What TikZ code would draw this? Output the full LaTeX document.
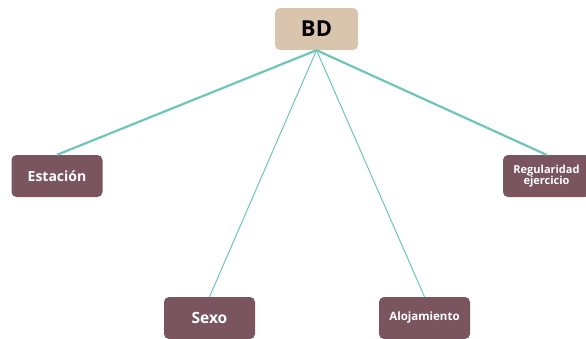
\documentclass[tikz,border=0pt]{standalone}
\usepackage{fontspec}
\setmainfont{Open Sans}
\usetikzlibrary{positioning, calc}

\definecolor{tanbox}{HTML}{D9C4AE}
\definecolor{plumbox}{HTML}{7A5560}
\definecolor{tealline}{HTML}{70C5BA}

\tikzset{
    root/.style={draw=none, fill=tanbox, rounded corners=5pt, minimum width=83pt, minimum height=42pt, font=\fontsize{22}{24}\selectfont\bfseries, text=black},
    leaf/.style={draw=none, fill=plumbox, rounded corners=5pt, minimum width=91pt, minimum height=42pt, text=white, font=\fontsize{14}{16}\selectfont\bfseries, align=center},
    thickedge/.style={draw=tealline, line width=2.2pt},
    thinedge/.style={draw=tealline, line width=1pt}
}

\begin{document}
\begin{tikzpicture}[x=1pt, y=-1pt]
    \useasboundingbox (0, 0) rectangle (586, 338);

    % Root
    \node[root] (bd) at (316.5, 29) {BD};

    % Leaves
    \node[leaf] (estacion) at (57, 176) {Estación};
    \node[leaf, minimum width=87pt, font=\fontsize{11}{11.5}\selectfont\bfseries] (regularidad) at (546.5, 176) {Regularidad\\ejercicio};
    \node[leaf, font=\fontsize{15.5}{17}\selectfont\bfseries] (sexo) at (209.5, 318) {Sexo};
    \node[leaf, font=\fontsize{11.5}{13}\selectfont\bfseries] (alojamiento) at (424.5, 318) {Alojamiento};

    % Connectors
    \draw[thickedge] (bd.south) -- (estacion.north);
    \draw[thickedge] (bd.south) -- (regularidad.north);
    \draw[thinedge] (bd.south) -- (sexo.north);
    \draw[thinedge] (bd.south) -- (alojamiento.north);
\end{tikzpicture}
\end{document}
